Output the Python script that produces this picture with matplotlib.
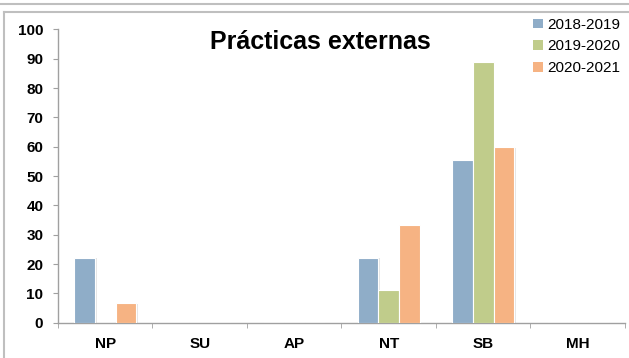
import matplotlib
matplotlib.use("Agg")
import numpy as np
import matplotlib.pyplot as plt
import matplotlib.patheffects as pe
from matplotlib.lines import Line2D
from matplotlib.patches import Patch

# data (percent of students)
categories = ['NP', 'SU', 'AP', 'NT', 'SB', 'MH']
years = ['2018-2019', '2019-2020', '2020-2021']
vals_2018 = [22.2, 0, 0, 22.2, 55.6, 0]
vals_2019 = [0, 0, 0, 11.1, 88.9, 0]
vals_2020 = [6.7, 0, 0, 33.3, 60.0, 0]
colors = ['#8FADC8', '#C0CC8B', '#F6B383']

plt.rcParams['font.family'] = ['Liberation Sans', 'DejaVu Sans']

fig = plt.figure(figsize=(6.29, 3.58), dpi=100)
ax = fig.add_axes([0.0922, 0.0986, 0.9014, 0.819])

x = np.arange(len(categories))
w = 0.218
shadow = [pe.SimplePatchShadow(offset=(1.2, -0.6), alpha=0.2, shadow_rgbFace='#808080'), pe.Normal()]
for i, (vals, col) in enumerate(zip([vals_2018, vals_2019, vals_2020], colors)):
    bars = ax.bar(x + (i - 1) * w, vals, w, color=col, edgecolor='white', linewidth=0.8, zorder=3)
    for b in bars:
        if b.get_height() > 0:
            b.set_path_effects(shadow)

ax.set_xlim(-0.5, 5.5)
ax.set_ylim(0, 100)
ax.set_yticks(range(0, 101, 10))
ax.set_xticks(x)
ax.set_xticklabels(categories)
ax.set_xticks(np.arange(-0.5, 6, 1), minor=True)
ax.tick_params(axis='x', which='major', length=0, pad=10, labelsize=11)
ax.tick_params(axis='x', which='minor', length=3.6, color='#A0A0A0', direction='out')
ax.tick_params(axis='y', length=3.6, color='#A0A0A0', labelsize=11, pad=7)
for lab in ax.get_xticklabels() + ax.get_yticklabels():
    lab.set_fontweight('bold')
for s in ['top', 'right']:
    ax.spines[s].set_visible(False)
for s in ['left', 'bottom']:
    ax.spines[s].set_color('#A0A0A0')
    ax.spines[s].set_linewidth(1)

fig.text(0.509, 0.883, 'Prácticas externas', ha='center', va='center',
         fontsize=18, fontweight='bold')

handles = [Patch(facecolor=c, edgecolor='none') for c in colors]
fig.legend(handles, years, loc='upper right', bbox_to_anchor=(1.003, 0.98),
           frameon=False, fontsize=11, handlelength=0.6, handleheight=0.6,
           handletextpad=0.3, labelspacing=0.5, borderpad=0.2)

# outer frame lines
fig.add_artist(Line2D([0, 1], [1 - 4 / 358, 1 - 4 / 358], color='#BFBFBF', lw=1.5))
fig.add_artist(Line2D([4 / 629, 1], [1 - 12 / 358, 1 - 12 / 358], color='#BFBFBF', lw=1.5))
fig.add_artist(Line2D([4 / 629, 4 / 629], [0, 1 - 12 / 358], color='#BFBFBF', lw=1.5))

fig.savefig('out.png', dpi=100)
